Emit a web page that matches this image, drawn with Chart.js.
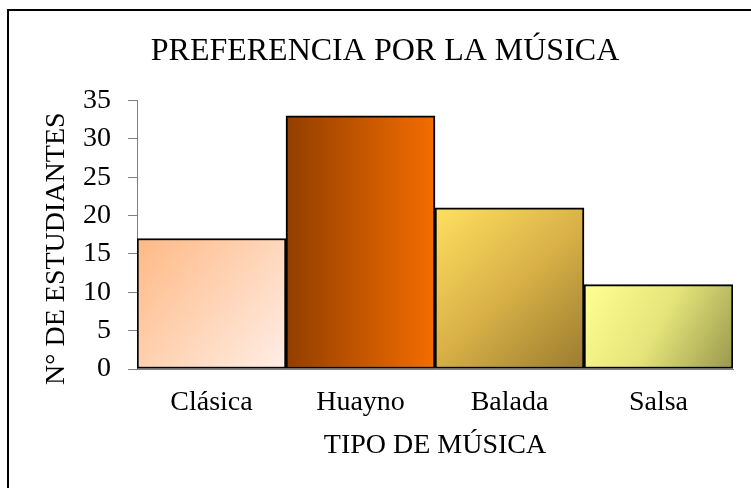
<!DOCTYPE html>
<html>
<head>
<meta charset="utf-8">
<script src="https://cdn.jsdelivr.net/npm/chart.js@4"></script>
<style>
    html, body { margin: 0; padding: 0; background: #fff; overflow: hidden; }
    #marco {
        position: absolute; left: 7px; top: 9px;
        width: 900px; height: 700px;
        border: 2px solid #000;
    }
    #grafico { position: absolute; left: 0; top: 0; }
</style>
</head>
<body>
<div id="marco"></div>
<canvas id="grafico" width="751" height="488"></canvas>
<script>
const tiposMusica = ['Clásica', 'Huayno', 'Balada', 'Salsa'];
const estudiantes = [17, 33, 21, 11];
const ejeY = { min: 0, max: 35, paso: 5 };

// degradado de cada barra: [x0, y0, x1, y1] relativos a la barra + paradas de color
const degradados = [
    { dir: [0, 0, 1, 1], paradas: ['#ffb985', '#ffeee6'] },
    { dir: [0, 0, 1, 0], paradas: ['#923e00', '#f46d00'] },
    { dir: [0, 0, 1, 1], paradas: ['#ffe060', '#d9b147', '#9a7c30'] },
    { dir: [0, 0, 1, 1], paradas: ['#ffff92', '#e4e47a', '#98984c'] }
];

const fuente = 'Liberation Serif, Times New Roman, serif';

function rellenoBarra(ctx) {
    const chart = ctx.chart;
    const area = chart.chartArea;
    if (!area) return '#ccc';
    const i = ctx.dataIndex;
    const sx = chart.scales.x, sy = chart.scales.y;
    const mitad = (sx.getPixelForValue(1) - sx.getPixelForValue(0)) / 2;
    const xc = sx.getPixelForValue(i);
    const x0 = xc - mitad, x1 = xc + mitad;
    const y0 = sy.getPixelForValue(estudiantes[i]), y1 = sy.getPixelForValue(0);
    const g = degradados[i];
    const grad = chart.ctx.createLinearGradient(
        x0 + g.dir[0] * (x1 - x0), y0 + g.dir[1] * (y1 - y0),
        x0 + g.dir[2] * (x1 - x0), y0 + g.dir[3] * (y1 - y0)
    );
    g.paradas.forEach((c, k) => grad.addColorStop(k / (g.paradas.length - 1), c));
    return grad;
}

const grafico = new Chart(document.getElementById('grafico').getContext('2d'), {
    type: 'bar',
    data: {
        labels: tiposMusica,
        datasets: [{
            data: estudiantes,
            backgroundColor: rellenoBarra,
            borderColor: '#000',
            borderWidth: 2,
            borderSkipped: false,
            barPercentage: 1,
            categoryPercentage: 1
        }]
    },
    options: {
        responsive: false,
        animation: false,
        layout: { padding: { left: 37, right: 18, top: 0, bottom: 0 } },
        plugins: {
            legend: { display: false },
            tooltip: { enabled: false },
            title: {
                display: true,
                text: 'PREFERENCIA POR LA MÚSICA',
                color: '#000',
                font: { family: fuente, size: 32, weight: 'normal' },
                padding: { top: 32, bottom: 30 }
            }
        },
        scales: {
            x: {
                grid: { display: false, drawTicks: false },
                border: { display: true, color: '#808080', width: 1 },
                ticks: {
                    color: '#000',
                    padding: 17,
                    font: { family: fuente, size: 28 }
                },
                title: {
                    display: true,
                    text: 'TIPO DE MÚSICA',
                    color: '#000',
                    font: { family: fuente, size: 28 },
                    padding: { top: 0, bottom: 26 }
                },
                afterFit: s => { s.height = 119; }
            },
            y: {
                min: ejeY.min,
                max: ejeY.max,
                grid: {
                    drawOnChartArea: false,
                    drawTicks: true,
                    tickLength: 9,
                    color: '#808080'
                },
                border: { display: true, color: '#808080', width: 1 },
                ticks: {
                    stepSize: ejeY.paso,
                    color: '#000',
                    padding: 17,
                    font: { family: fuente, size: 28 }
                },
                title: {
                    display: true,
                    // espacios finales: el título queda algo más abajo del centro
                    text: 'N° DE ESTUDIANTES    ',
                    color: '#000',
                    font: { family: fuente, size: 28 },
                    padding: { top: 3, bottom: 0 }
                },
                afterFit: s => { s.width = 100; }
            }
        }
    }
});
</script>
</body>
</html>
